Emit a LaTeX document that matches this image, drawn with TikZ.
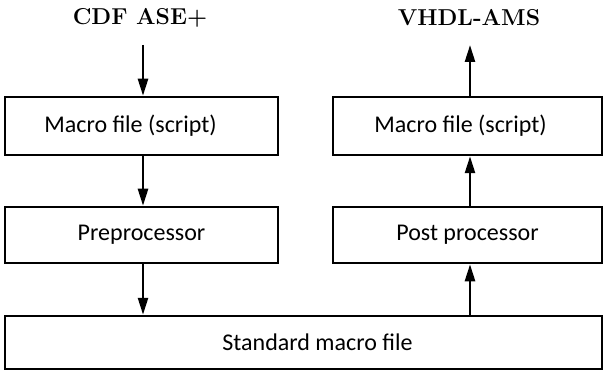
\documentclass[tikz,border=0pt]{standalone}
\usepackage{fontspec}
\newfontfamily\boxfont{Carlito}
\usetikzlibrary{arrows.meta}
\begin{document}
\begin{tikzpicture}[x=1pt,y=-1pt,
  blk/.style={draw, line width=2.5pt, rectangle, inner sep=0pt, font=\boxfont\fontsize{24}{28}\selectfont},
  lbl/.style={font=\bfseries\fontsize{23}{26}\selectfont},
  flow/.style={line width=2.5pt, -{Triangle[length=17pt,width=10pt]}}]
\useasboundingbox (0,0) rectangle (607,371);
% the two script boxes carry their text a little left of centre
\node[blk, minimum width=273pt, minimum height=58pt] (m1) at (141.5,126) {Macro file (script)\hspace*{22pt}};
\node[blk, minimum width=269pt, minimum height=58pt] (m2) at (467.5,126) {Macro file (script)\hspace*{14pt}};
\node[blk, minimum width=273pt, minimum height=56pt] (pre) at (141.5,235) {Preprocessor};
\node[blk, minimum width=269pt, minimum height=56pt] (post) at (467.5,235) {Post processor};
\node[blk, minimum width=597pt, minimum height=53pt] (std) at (303.5,342.5) {\hspace*{28pt}Standard macro file};
\node[lbl] (cdf) at (140,18) {CDF ASE+};
\node[lbl] (vhdl) at (469,18) {VHDL-AMS};
\coordinate (cin) at (143,45);
\coordinate (vout) at (470,45);
\draw[flow] (cin) -- (cin |- m1.north);
\draw[flow] (m1.south -| cin) -- (pre.north -| cin);
\draw[flow] (pre.south -| cin) -- (std.north -| cin);
\draw[flow] (std.north -| vout) -- (post.south -| vout);
\draw[flow] (post.north -| vout) -- (m2.south -| vout);
\draw[flow] (m2.north -| vout) -- (vout);
\end{tikzpicture}
\end{document}
